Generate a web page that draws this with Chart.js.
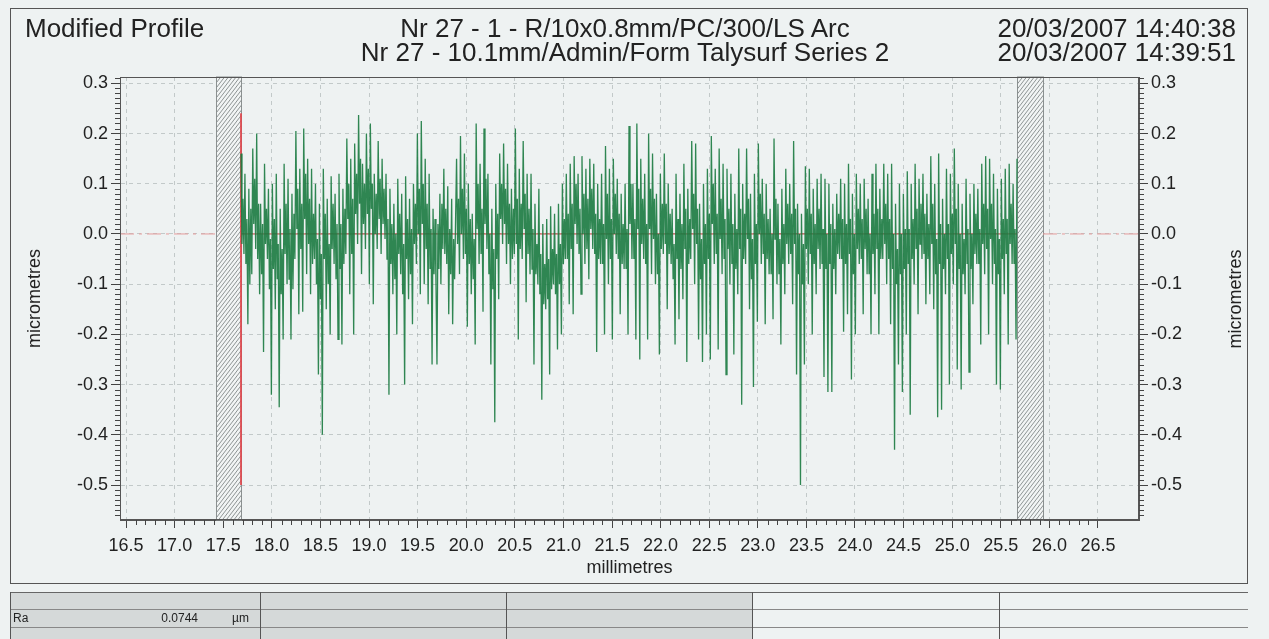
<!DOCTYPE html>
<html>
<head>
<meta charset="utf-8">
<script src="https://cdn.jsdelivr.net/npm/chart.js@4.4.1/dist/chart.umd.min.js"></script>
<style>
  body { margin: 0; background: #eef2f2; font-family: "Liberation Sans", Arial, sans-serif; color: #222; }
  #page { position: relative; width: 1269px; height: 639px; overflow: hidden; }
  #chart { position: absolute; left: 0; top: 0; }
  .frame { position: absolute; left: 10px; top: 8px; width: 1238px; height: 576px; border: 1px solid #555; box-sizing: border-box; }
  .hd { position: absolute; font-size: 26px; line-height: 24px; white-space: nowrap; }
  .yt { position: absolute; width: 200px; text-align: center; font-size: 18px; line-height: 22px; transform: rotate(-90deg); }
  .gray { position: absolute; left: 10px; top: 592px; width: 742px; height: 47px; background: #d5d9d9; }
  .hl { position: absolute; left: 10px; width: 1238px; height: 1px; background: #666; }
  .vl { position: absolute; top: 592px; width: 1px; height: 47px; background: #555; }
  .cell { position: absolute; font-size: 12px; line-height: 14px; top: 611px; white-space: nowrap; }
</style>
</head>
<body>
<div id="page">
  <canvas id="chart" width="1269" height="639"></canvas>
  <div class="frame"></div>
  <div class="hd" style="left:25px; top:16px;">Modified Profile</div>
  <div class="hd" style="left:325px; width:600px; text-align:center; top:16px;">Nr 27 - 1 - R/10x0.8mm/PC/300/LS Arc</div>
  <div class="hd" style="left:325px; width:600px; text-align:center; top:40px;">Nr 27 - 10.1mm/Admin/Form Talysurf Series 2</div>
  <div class="hd" style="right:33px; top:16px;">20/03/2007 14:40:38</div>
  <div class="hd" style="right:33px; top:40px;">20/03/2007 14:39:51</div>
  <div class="yt" style="left:1135px; top:288px;">micrometres</div>

  <div class="gray"></div>
  <div class="hl" style="top:592px;"></div>
  <div class="hl" style="top:609px; background:#888;"></div>
  <div class="hl" style="top:627px; background:#888;"></div>
  <div class="vl" style="left:10px;"></div>
  <div class="vl" style="left:260px;"></div>
  <div class="vl" style="left:506px;"></div>
  <div class="vl" style="left:752px;"></div>
  <div class="vl" style="left:999px;"></div>
  <div class="cell" style="left:13px;">Ra</div>
  <div class="cell" style="left:150px; width:48px; text-align:right;">0.0744</div>
  <div class="cell" style="left:232px;">µm</div>
</div>
<script>
// profile heights (micrometres) left to right, 17.68 mm to 25.67 mm
var profileA = [
  0.16,-0.02,0.07,-0.04, 0.12,-0.06,0.03,-0.18, 0.09,-0.1,0.05,-0.08, 0.17,0.02,0.11,-0.03, 0.2,-0.05,0.06,-0.12,
  0.06,-0.08,0.02,-0.235, 0.14,-0.02,0.05,-0.05, 0.09,-0.11,-0.01,-0.32, 0.1,-0.07,0.03,-0.15, 0.12,-0.09,-0.02,-0.345,
  0.05,-0.12,-0.03,-0.21, 0.14,-0.04,0.06,-0.1, 0.11,-0.09,0.01,-0.21, 0.08,-0.11,0.04,-0.05, 0.205,0.01,0.09,-0.16,
  0.13,-0.03,0.06,-0.155, 0.21,0.03,0.12,-0.08, 0.15,-0.02,0.07,-0.12, 0.13,-0.06,0.04,-0.05, 0.1,-0.1,-0.01,-0.28,
  0.06,-0.13,-0.04,-0.4, 0.13,-0.05,0.04,-0.15, 0.07,-0.1,-0.02,-0.2, 0.115,-0.03,0.06,-0.06, 0.08,-0.09,0.02,-0.21,
  0.12,-0.07,0.02,-0.22, 0.09,-0.06,0.05,-0.04, 0.19,0.03,0.1,-0.12, 0.15,-0.04,0.07,-0.2, 0.18,0.04,0.12,-0.02,
  0.237,0.06,0.15,-0.08, 0.14,0.02,0.1,-0.03, 0.2,0.04,0.13,-0.1, 0.22,0.05,0.1,-0.14, 0.12,0.0,0.08,-0.03,
  0.185,0.03,0.11,-0.04, 0.15,0.02,0.09,-0.01, 0.12,-0.05,0.03,-0.32, 0.09,-0.06,0.02,-0.12, 0.06,-0.09,0.0,-0.2,
  0.11,-0.04,0.04,-0.08, 0.08,-0.12,-0.02,-0.3, 0.115,-0.05,0.03,-0.13, 0.07,-0.08,0.01,-0.18, 0.1,-0.02,0.06,-0.06,
  0.2,0.0,0.09,-0.12, 0.225,0.02,0.1,-0.1, 0.15,-0.03,0.06,-0.14, 0.12,-0.07,0.01,-0.26, 0.05,-0.08,0.03,-0.1
];
var profileB = [
  -0.26,0.02,-0.07,0.08, -0.1,0.06,-0.03,0.13, -0.04,0.05,-0.06,0.095, -0.16,0.01,-0.08,0.07, -0.18,-0.01,-0.09,0.03,
  0.15,-0.02,0.07,-0.08, 0.195,0.0,0.09,-0.05, 0.16,-0.04,0.05,-0.185, 0.1,-0.06,0.03,-0.12, 0.04,-0.09,-0.01,-0.22,
  0.22,0.01,0.1,-0.06, 0.14,-0.04,0.05,-0.155, 0.21,0.02,0.11,-0.03, 0.12,-0.08,0.0,-0.26, 0.05,-0.11,-0.03,-0.375,
  0.1,-0.05,0.04,-0.13, 0.16,0.03,0.1,-0.02, 0.18,0.02,0.09,-0.06, 0.14,-0.02,0.06,-0.1, 0.09,-0.05,0.05,-0.04,
  0.21,-0.02,0.07,-0.21, 0.13,-0.03,0.06,-0.05, 0.185,0.01,0.08,-0.136, 0.12,-0.04,0.05,-0.08, 0.12,-0.07,0.01,-0.26,
  0.06,-0.08,-0.02,-0.1, 0.09,-0.12,-0.04,-0.33, 0.02,-0.14,-0.06,-0.15, 0.03,-0.13,-0.05,-0.28, 0.055,-0.11,-0.03,-0.1,
  0.04,-0.12,-0.04,-0.23, 0.06,-0.1,-0.02,-0.2, 0.1,-0.06,0.03,-0.05, 0.12,-0.05,0.04,-0.14, 0.14,-0.03,0.06,-0.16,
  0.155,0.02,0.1,-0.02, 0.12,-0.04,0.05,-0.12, 0.155,0.0,0.08,-0.06, 0.13,-0.03,0.07,-0.09, 0.15,0.01,0.09,-0.03,
  0.14,-0.04,0.04,-0.235, 0.1,-0.05,0.03,-0.06, 0.12,-0.06,0.02,-0.2, 0.175,-0.01,0.08,-0.1, 0.13,-0.05,0.03,-0.21,
  0.15,0.0,0.08,-0.04, 0.11,-0.05,0.04,-0.16, 0.08,-0.06,0.02,-0.07, 0.1,-0.07,0.01,-0.2, 0.215,0.02,0.1,-0.05
];
var profileC = [
  0.1,-0.05,0.03,-0.21, 0.22,0.01,0.09,-0.25, 0.15,-0.02,0.07,-0.05, 0.12,-0.06,0.02,-0.21, 0.2,0.01,0.09,-0.08,
  0.16,-0.01,0.07,-0.1, 0.08,-0.08,0.0,-0.24, 0.12,-0.03,0.06,-0.04, 0.16,-0.02,0.06,-0.15, 0.1,-0.04,0.04,-0.06,
  0.05,-0.09,-0.02,-0.22, 0.12,-0.05,0.03,-0.17, 0.08,-0.07,0.02,-0.13, 0.14,-0.03,0.05,-0.255, 0.09,-0.06,0.03,-0.05,
  0.185,0.01,0.08,-0.1, 0.18,-0.02,0.05,-0.21, 0.06,-0.09,-0.01,-0.255, 0.1,-0.06,0.02,-0.2, 0.13,-0.05,0.04,-0.25,
  0.195,0.02,0.1,-0.06, 0.13,-0.04,0.04,-0.23, 0.17,-0.01,0.07,-0.08, 0.14,-0.05,0.03,-0.28, 0.13,-0.03,0.05,-0.1,
  0.12,-0.06,0.02,-0.24, 0.08,-0.07,0.01,-0.12, 0.17,-0.03,0.05,-0.34, 0.1,-0.05,0.04,-0.06, 0.17,-0.01,0.07,-0.15,
  0.08,-0.09,-0.01,-0.305, 0.12,-0.06,0.02,-0.175, 0.18,0.0,0.08,-0.06, 0.11,-0.04,0.04,-0.18, 0.1,-0.05,0.03,-0.08,
  0.05,-0.08,0.0,-0.17, 0.19,-0.01,0.07,-0.1, 0.06,-0.08,-0.01,-0.22, 0.09,-0.06,0.02,-0.12, 0.13,-0.02,0.06,-0.06,
  0.1,-0.04,0.04,-0.14, 0.185,-0.02,0.05,-0.28, 0.06,-0.08,0.0,-0.5, 0.04,-0.1,-0.02,-0.26, 0.135,-0.03,0.05,-0.1,
  0.13,-0.04,0.04,-0.2, 0.09,-0.06,0.02,-0.12, 0.11,-0.03,0.05,-0.07, 0.12,-0.06,0.01,-0.285, 0.11,-0.07,0.0,-0.315
];
var profileD = [
  0.1,-0.06,0.02,-0.315, 0.06,-0.07,0.01,-0.12, 0.08,-0.04,0.04,-0.05, 0.11,-0.05,0.03,-0.195, 0.1,-0.06,0.02,-0.16,
  0.14,-0.04,0.03,-0.29, 0.08,-0.08,0.0,-0.2, 0.12,-0.03,0.05,-0.06, 0.1,-0.05,0.03,-0.16, 0.11,-0.03,0.05,-0.08,
  0.07,-0.08,0.0,-0.2, 0.12,-0.04,0.04,-0.12, 0.14,-0.03,0.05,-0.2, 0.09,-0.05,0.03,-0.05, 0.14,-0.02,0.06,-0.1,
  0.12,-0.05,0.03,-0.18, 0.14,-0.07,0.0,-0.43, 0.06,-0.1,-0.03,-0.26, 0.1,-0.08,0.0,-0.315, 0.08,-0.07,0.01,-0.2,
  0.125,-0.06,0.01,-0.36, 0.1,-0.05,0.03,-0.1, 0.14,-0.03,0.05,-0.16, 0.11,-0.02,0.06,-0.05, 0.12,-0.04,0.04,-0.14,
  0.08,-0.05,0.02,-0.12, 0.155,-0.02,0.06,-0.15, 0.1,-0.08,-0.01,-0.365, 0.16,-0.06,0.02,-0.35, 0.07,-0.07,0.0,-0.12,
  0.13,-0.05,0.02,-0.3, 0.12,-0.04,0.04,-0.1, 0.17,-0.02,0.05,-0.27, 0.1,-0.07,0.0,-0.31, 0.06,-0.08,-0.01,-0.12,
  0.11,-0.06,0.01,-0.275, 0.08,-0.07,0.0,-0.14, 0.1,-0.04,0.04,-0.06, 0.09,-0.06,0.01,-0.22, 0.14,-0.02,0.06,-0.08,
  0.155,-0.03,0.05,-0.2, 0.15,-0.01,0.06,-0.1, 0.12,-0.06,0.01,-0.3, 0.09,-0.08,-0.01,-0.31, 0.11,-0.05,0.03,-0.12,
  0.13,-0.04,0.03,-0.22, 0.14,-0.02,0.06,-0.06, 0.1,-0.06,0.01,-0.21, 0.15
];

var profileStart = 17.683;   // mm, first sample
var profileEnd = 25.667;     // mm, last sample
var xRange = [16.438, 26.922];
var yRange = [-0.5697, 0.3126];
var xTicks = [16.5, 17.0, 17.5, 18.0, 18.5, 19.0, 19.5, 20.0, 20.5, 21.0, 21.5,
              22.0, 22.5, 23.0, 23.5, 24.0, 24.5, 25.0, 25.5, 26.0, 26.5];
var yTicks = [-0.5, -0.4, -0.3, -0.2, -0.1, 0.0, 0.1, 0.2, 0.3];
var hatchBands = [[17.426, 17.683], [25.667, 25.934]];
var startMarker = [0.24, -0.5];

var profile = [].concat(profileA, profileB, profileC, profileD);
var step = (profileEnd - profileStart) / (profile.length - 1);
var profilePoints = profile.map(function(v, i) { return { x: profileStart + i * step, y: v }; });

var axisFont = { family: '"Liberation Sans", Arial, sans-serif', size: 18 };
var gridColor = 'rgba(140,150,150,0.45)';

// hatched bands, minor ticks and plot frame
var decor = {
    id: 'decor',
    beforeDatasetsDraw: function(chart) {
        var ctx = chart.ctx, a = chart.chartArea, x = chart.scales.x;
        hatchBands.forEach(function(b) {
            var x0 = Math.round(x.getPixelForValue(b[0])) + 0.5;
            var x1 = Math.round(x.getPixelForValue(b[1])) + 0.5;
            var w = x1 - x0, rise = w * 1.3;
            ctx.save();
            ctx.fillStyle = '#f2f5f5';
            ctx.fillRect(x0, a.top, w, a.bottom - a.top);
            ctx.beginPath();
            ctx.rect(x0, a.top, w, a.bottom - a.top);
            ctx.clip();
            ctx.strokeStyle = '#8e9494';
            ctx.lineWidth = 1;
            ctx.beginPath();
            for (var k = a.bottom + rise; k > a.top - 2; k -= 5) {
                ctx.moveTo(x0, k);
                ctx.lineTo(x1, k - rise);
            }
            ctx.stroke();
            ctx.restore();
            ctx.save();
            ctx.strokeStyle = '#8a9090';
            ctx.strokeRect(x0, a.top, w, a.bottom - a.top);
            ctx.restore();
        });
    },
    afterDraw: function(chart) {
        var ctx = chart.ctx, a = chart.chartArea, x = chart.scales.x, y = chart.scales.y;
        ctx.save();
        ctx.strokeStyle = '#444';
        ctx.lineWidth = 1;
        ctx.beginPath();
        for (var i = -56; i <= 31; i++) {
            if (i % 10 === 0) continue;
            var py = Math.round(y.getPixelForValue(i / 100)) + 0.5;
            ctx.moveTo(a.left - 5, py); ctx.lineTo(a.left, py);
            ctx.moveTo(a.right, py); ctx.lineTo(a.right + 5, py);
        }
        for (var j = 165; j <= 265; j++) {
            if (j % 5 === 0) continue;
            var px = Math.round(x.getPixelForValue(j / 10)) + 0.5;
            ctx.moveTo(px, a.bottom); ctx.lineTo(px, a.bottom + 5);
        }
        ctx.stroke();
        ctx.strokeStyle = '#555';
        ctx.strokeRect(Math.round(a.left) + 0.5, Math.round(a.top) + 0.5,
                       Math.round(a.right - a.left) - 1, Math.round(a.bottom - a.top) - 1);
        ctx.restore();
    }
};

function yAxis(pos, width) {
    return {
        type: 'linear',
        position: pos,
        min: yRange[0],
        max: yRange[1],
        afterBuildTicks: function(s) { s.ticks = yTicks.map(function(v) { return { value: v }; }); },
        afterFit: function(s) { s.width = width; },
        ticks: {
            font: axisFont, color: '#222', padding: 3,
            callback: function(v) { return v.toFixed(1); }
        },
        grid: {
            drawOnChartArea: pos === 'left',
            color: gridColor, tickColor: '#444', tickLength: 9
        },
        border: { color: '#555', dash: [4, 4] },
        title: {
            display: pos === 'left', text: 'micrometres', font: axisFont, color: '#222',
            padding: { top: 24, bottom: 0 }
        }
    };
}

function zeroSegment(from, to) {
    return {
        label: 'mean outside',
        data: [{ x: from, y: 0 }, { x: to, y: 0 }],
        borderColor: '#e59a9a',
        borderWidth: 1,
        borderDash: [14, 5, 3, 5],
        pointRadius: 0,
        order: 2
    };
}

new Chart(document.getElementById('chart').getContext('2d'), {
    type: 'line',
    data: {
        datasets: [{
            label: 'profile',
            data: profilePoints,
            borderColor: 'rgba(26,122,64,0.9)',
            borderWidth: 1.3,
            pointRadius: 0,
            tension: 0,
            order: 1
        }, {
            label: 'mean line',
            data: [{ x: profileStart, y: 0 }, { x: profileEnd, y: 0 }],
            borderColor: '#c83232',
            borderWidth: 1,
            pointRadius: 0,
            order: 2
        }, {
            label: 'start',
            data: [{ x: profileStart, y: startMarker[0] }, { x: profileStart, y: startMarker[1] }],
            borderColor: '#e0484f',
            borderWidth: 1,
            pointRadius: 0,
            order: 2
        },
        zeroSegment(xRange[0], hatchBands[0][0]),
        zeroSegment(hatchBands[1][1], xRange[1])]
    },
    options: {
        responsive: false,
        animation: false,
        devicePixelRatio: 1,
        layout: { padding: { top: 77, left: 0, right: 0, bottom: 0 } },
        plugins: { legend: { display: false }, tooltip: { enabled: false } },
        scales: {
            x: {
                type: 'linear',
                min: xRange[0],
                max: xRange[1],
                afterBuildTicks: function(s) { s.ticks = xTicks.map(function(v) { return { value: v }; }); },
                afterFit: function(s) { s.height = 119; },
                ticks: {
                    font: axisFont, color: '#222', padding: 7, maxRotation: 0, autoSkip: false,
                    callback: function(v) { return v.toFixed(1); }
                },
                grid: { color: gridColor, tickColor: '#444', tickLength: 8 },
                border: { color: '#555', dash: [4, 4] },
                title: {
                    display: true, text: 'millimetres', font: axisFont, color: '#222',
                    padding: { top: 0, bottom: 60 }
                }
            },
            y: yAxis('left', 120),
            y2: yAxis('right', 130)
        }
    },
    plugins: [decor]
});
</script>
</body>
</html>
